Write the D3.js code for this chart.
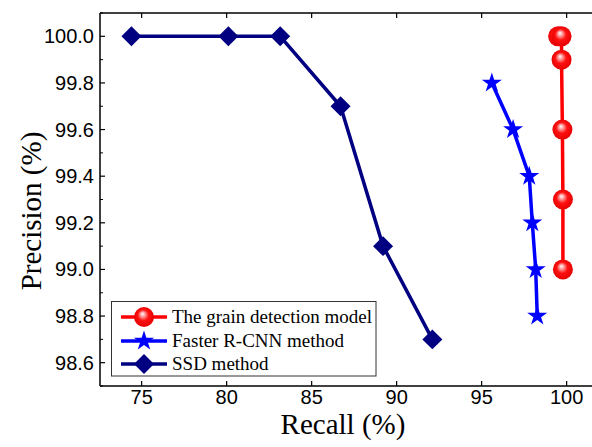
<!DOCTYPE html>
<html lang="en">
<head>
  <meta charset="UTF-8">
  <title>Precision vs Recall</title>
  <script src="https://d3js.org/d3.v7.min.js"></script>
  <style>
    body { margin: 0; padding: 0; background: #fff; }
    svg { display: block; }
    .tick-label { font-family: 'Liberation Sans', Arial, sans-serif; font-size: 20px; fill: #000; }
    .axis-title { font-family: 'Liberation Serif', 'Times New Roman', serif; font-size: 29px; fill: #000; }
    .legend-text { font-family: 'Liberation Serif', 'Times New Roman', serif; font-size: 19px; fill: #000; }
  </style>
</head>
<body>
<div id="chart"></div>
<script>
// series data (recall %, precision %)
const grainRecall    = [99.5, 99.7, 99.7, 99.75, 99.78, 99.78];
const grainPrecision = [100.0, 100.0, 99.9, 99.6, 99.3, 99.0];

const frcnnRecall    = [95.6, 96.85, 97.8, 97.98, 98.18, 98.27];
const frcnnPrecision = [99.8, 99.6, 99.4, 99.2, 99.0, 98.8];

const ssdRecall    = [74.4, 80.1, 83.15, 86.7, 89.2, 92.1];
const ssdPrecision = [100.0, 100.0, 100.0, 99.7, 99.1, 98.7];

const xTicks = [75, 80, 85, 90, 95, 100];
const yTicks = [98.6, 98.8, 99.0, 99.2, 99.4, 99.6, 99.8, 100.0];
const yMinor = [98.5, 98.7, 98.9, 99.1, 99.3, 99.5, 99.7, 99.9, 100.1];

const legendNames = ["The grain detection model", "Faster R-CNN method", "SSD method"];

const W = 592, H = 447;
const svg = d3.select("#chart").append("svg").attr("width", W).attr("height", H);

const defs = svg.append("defs");
const grad = defs.append("radialGradient").attr("id", "ball")
  .attr("cx", "0.5").attr("cy", "0.5").attr("r", "0.55")
  .attr("fx", "0.42").attr("fy", "0.33");
grad.append("stop").attr("offset", "0%").attr("stop-color", "#ffffff");
grad.append("stop").attr("offset", "22%").attr("stop-color", "#ff9a9a");
grad.append("stop").attr("offset", "50%").attr("stop-color", "#ff1010");
grad.append("stop").attr("offset", "100%").attr("stop-color", "#e00000");

const plotLeft = 100, plotTop = 13, plotBottom = 386;
const x = d3.scaleLinear().domain([72.55, 102]).range([plotLeft, plotLeft + 29.45 * 17]);
const y = d3.scaleLinear().domain([98.5, 100.1]).range([plotBottom, plotTop]);

// axes frame (right side runs off the picture)
const axisG = svg.append("g");
axisG.append("line").attr("x1", plotLeft).attr("x2", W).attr("y1", plotBottom).attr("y2", plotBottom)
  .attr("stroke", "#000").attr("stroke-width", 1.5);
axisG.append("line").attr("x1", plotLeft).attr("x2", W).attr("y1", plotTop).attr("y2", plotTop)
  .attr("stroke", "#000").attr("stroke-width", 1.5);
axisG.append("line").attr("x1", plotLeft).attr("x2", plotLeft).attr("y1", plotTop).attr("y2", plotBottom)
  .attr("stroke", "#000").attr("stroke-width", 1.5);

// x ticks (inward, bottom and top)
xTicks.forEach(t => {
  const px = x(t);
  axisG.append("line").attr("x1", px).attr("x2", px).attr("y1", plotBottom).attr("y2", plotBottom - 5)
    .attr("stroke", "#000").attr("stroke-width", 1.2);
  axisG.append("line").attr("x1", px).attr("x2", px).attr("y1", plotTop).attr("y2", plotTop + 5)
    .attr("stroke", "#000").attr("stroke-width", 1.2);
  axisG.append("text").attr("class", "tick-label").attr("x", px).attr("y", plotBottom + 18)
    .attr("text-anchor", "middle").text(t);
});

// y ticks
yTicks.forEach(t => {
  const py = y(t);
  axisG.append("line").attr("x1", plotLeft).attr("x2", plotLeft + 5).attr("y1", py).attr("y2", py)
    .attr("stroke", "#000").attr("stroke-width", 1.2);
  axisG.append("text").attr("class", "tick-label").attr("x", plotLeft - 6).attr("y", py + 7)
    .attr("text-anchor", "end").text(d3.format(".1f")(t));
});
yMinor.forEach(t => {
  const py = y(t);
  axisG.append("line").attr("x1", plotLeft).attr("x2", plotLeft + 3).attr("y1", py).attr("y2", py)
    .attr("stroke", "#000").attr("stroke-width", 1);
});

// axis titles
svg.append("text").attr("class", "axis-title").attr("x", 343).attr("y", 434)
  .attr("text-anchor", "middle").text("Recall (%)");
svg.append("text").attr("class", "axis-title")
  .attr("transform", "translate(41,211) rotate(-90)")
  .attr("text-anchor", "middle").text("Precision (%)");

const line = d3.line().x(d => x(d[0])).y(d => y(d[1]));
const star = d3.symbol().type(d3.symbolStar).size(125);
const diamond = d3.symbol().type(d3.symbolSquare).size(200);

const series = [
  { xs: grainRecall, ys: grainPrecision, color: "#ff0000", marker: "ball" },
  { xs: frcnnRecall, ys: frcnnPrecision, color: "#0000ff", marker: "star" },
  { xs: ssdRecall, ys: ssdPrecision, color: "#000080", marker: "diamond" }
];

function drawMarker(g, type, color, cx, cy) {
  if (type === "ball") {
    g.append("circle").attr("cx", cx).attr("cy", cy).attr("r", 10).attr("fill", "url(#ball)");
  } else if (type === "star") {
    g.append("path").attr("d", star).attr("fill", color)
      .attr("transform", `translate(${cx},${cy})`);
  } else {
    g.append("path").attr("d", diamond).attr("fill", color)
      .attr("transform", `translate(${cx},${cy}) rotate(45)`);
  }
}

const plot = svg.append("g");
series.slice().reverse().forEach(s => {
  const pts = s.xs.map((v, i) => [v, s.ys[i]]);
  plot.append("path").datum(pts).attr("d", line).attr("fill", "none")
    .attr("stroke", s.color).attr("stroke-width", 3.5).attr("stroke-linejoin", "round");
  pts.forEach(p => drawMarker(plot, s.marker, s.color, x(p[0]), y(p[1])));
});

// legend
const lg = svg.append("g");
lg.append("rect").attr("x", 111.5).attr("y", 301.5).attr("width", 264.5).attr("height", 74.5)
  .attr("fill", "#fff").attr("stroke", "#333").attr("stroke-width", 1);
const rowY = [317, 341, 364];
series.forEach((s, i) => {
  lg.append("line").attr("x1", 121).attr("x2", 167).attr("y1", rowY[i]).attr("y2", rowY[i])
    .attr("stroke", s.color).attr("stroke-width", 3.5);
  drawMarker(lg, s.marker, s.color, 144, rowY[i]);
  lg.append("text").attr("class", "legend-text").attr("x", 172).attr("y", rowY[i] + 6)
    .text(legendNames[i]);
});
</script>
</body>
</html>
